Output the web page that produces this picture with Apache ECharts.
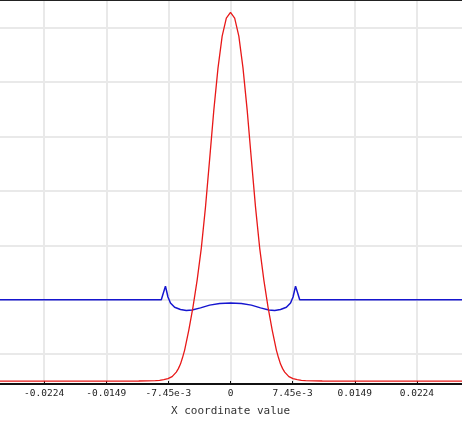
<!DOCTYPE html>
<html>
<head>
<meta charset="utf-8">
<script src="https://cdn.jsdelivr.net/npm/echarts@6/dist/echarts.min.js"></script>
<style>
html,body{margin:0;padding:0;background:#fff;overflow:hidden;width:462px;height:424px;position:relative;}
#chart{position:absolute;left:-21px;top:0;width:503px;height:424px;}
</style>
</head>
<body>
<div id="chart"></div>
<script>
// x tick positions and their printed labels
var xTickValues = [-0.02235, -0.0149, -0.00745, 0, 0.00745, 0.0149, 0.02235];
var xTickLabels = ['-0.0224', '-0.0149', '-7.45e-3', '0', '7.45e-3', '0.0149', '0.0224'];
var xAxisName = 'X coordinate value';

// red curve
var redX = [-0.029, -0.02, -0.015, -0.0125, -0.011, -0.01, -0.009, -0.0085, -0.008, -0.0075, -0.007,
  -0.0065, -0.00625, -0.006, -0.00575, -0.0055, -0.005, -0.0045, -0.004, -0.0035, -0.003, -0.0025, -0.002,
  -0.0015, -0.001, -0.0005, 0,
  0.0005, 0.001, 0.0015, 0.002, 0.0025, 0.003, 0.0035, 0.004, 0.0045, 0.005,
  0.0055, 0.00575, 0.006, 0.00625, 0.0065, 0.007, 0.0075, 0.008, 0.0085, 0.009, 0.01, 0.011, 0.0125, 0.015, 0.02, 0.029];
var redY = [0.504, 0.504, 0.504, 0.504, 0.505, 0.507, 0.511, 0.517, 0.529, 0.548, 0.586,
  0.669, 0.733, 0.816, 0.936, 1.074, 1.441, 1.864, 2.360, 2.949, 3.702, 4.585, 5.485,
  6.257, 6.846, 7.176, 7.281,
  7.176, 6.846, 6.257, 5.485, 4.585, 3.702, 2.949, 2.360, 1.864, 1.441,
  1.074, 0.936, 0.816, 0.733, 0.669, 0.586, 0.548, 0.529, 0.517, 0.511, 0.507, 0.505, 0.504, 0.504, 0.504, 0.504];

// blue curve
var blueX = [-0.029, -0.0083, -0.0078, -0.0075, -0.0072, -0.0067, -0.006, -0.0053, -0.0046, -0.0036, -0.0025, -0.0013, 0,
  0.0013, 0.0025, 0.0036, 0.0046, 0.0053, 0.006, 0.0067, 0.0072, 0.0075, 0.0078, 0.0083, 0.029];
var blueY = [2.0, 2.0, 2.25, 2.05, 1.94, 1.86, 1.82, 1.80, 1.81, 1.85, 1.90, 1.93, 1.94,
  1.93, 1.90, 1.85, 1.81, 1.80, 1.82, 1.86, 1.94, 2.05, 2.25, 2.0, 2.0];

function zip(a, b) { return a.map(function (v, i) { return [v, b[i]]; }); }

var chart = echarts.init(document.getElementById('chart'), null, {renderer: 'canvas'});
var gridColor = '#e9e9e9';
chart.setOption({
  animation: false,
  backgroundColor: '#ffffff',
  grid: {left: 0.5, right: 0.2, top: 0, bottom: 40, containLabel: false},
  xAxis: [{
    type: 'value',
    min: -0.0298, max: 0.0298, interval: 0.00745,
    name: xAxisName, nameLocation: 'middle', nameGap: 22,
    nameTextStyle: {fontFamily: 'DejaVu Sans Mono', fontSize: 11, color: '#333'},
    axisLine: {show: true, onZero: false, lineStyle: {color: '#111', width: 2}},
    axisTick: {show: true, inside: true, length: 3, lineStyle: {color: '#111', width: 1}},
    axisLabel: {
      margin: 5, fontFamily: 'DejaVu Sans Mono', fontSize: 9.5, color: '#222',
      showMinLabel: true, showMaxLabel: true,
      formatter: function (v) {
        for (var i = 0; i < xTickValues.length; i++) {
          if (Math.abs(xTickValues[i] - v) < 1e-6) return xTickLabels[i];
        }
        return '';
      }
    },
    splitLine: {show: true, lineStyle: {color: gridColor, width: 2}}
  }, {
    type: 'value', position: 'top',
    min: -0.0298, max: 0.0298,
    axisLine: {show: true, onZero: false, lineStyle: {color: '#222', width: 2}},
    axisTick: {show: false}, axisLabel: {show: false}, splitLine: {show: false}
  }],
  yAxis: {
    type: 'value', min: 0.45, max: 7.51, splitNumber: 7,
    axisLine: {show: false}, axisTick: {show: false}, axisLabel: {show: false},
    splitLine: {show: true, lineStyle: {color: gridColor, width: 2}}
  },
  series: [{
    type: 'line', data: zip(blueX, blueY), showSymbol: false, symbol: 'none',
    lineStyle: {color: '#1616cf', width: 1.5}, clip: true, z: 3
  }, {
    type: 'line', data: zip(redX, redY), showSymbol: false, symbol: 'none',
    lineStyle: {color: '#e81818', width: 1.3}, clip: true, z: 4
  }]
});
</script>
</body>
</html>
